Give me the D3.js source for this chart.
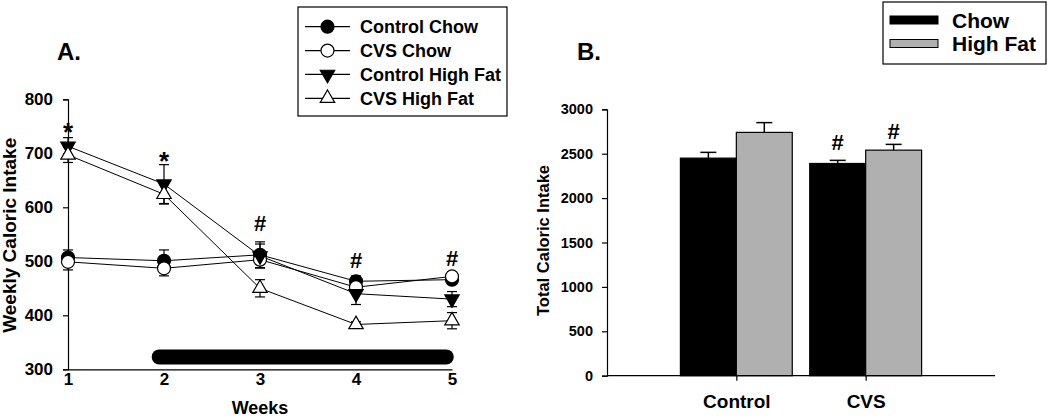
<!DOCTYPE html>
<html><head><meta charset="utf-8">
<script src="https://cdn.jsdelivr.net/npm/d3@7"></script>
<style>
html,body{margin:0;padding:0;background:#fff;}
svg{display:block;font-family:"Liberation Sans",Arial,sans-serif;font-weight:bold;}
</style></head>
<body><svg id="c" width="1050" height="417"></svg>
<script>
// ---------- Panel A data ----------
const weeks = [1, 2, 3, 4, 5];
const controlChow = [507, 501, 512, 463, 466];
const controlChowErr = [14, 20, 24, 10, 8];
const cvsChow = [499, 487, 503, 452, 472];
const cvsChowErr = [15, 14, 15, 10, 8];
const controlHF = [713, 643, 510, 440, 430];
const controlHFErr = [16, 36, 22, 20, 14];
const cvsHF = [697, 624, 450, 383, 390];
const cvsHFErr = [14, 18, 16, 5, 15];
const seriesNamesA = ["Control Chow", "CVS Chow", "Control High Fat", "CVS High Fat"];
const yTicksA = [300, 400, 500, 600, 700, 800];
const annotA = ["*", "*", "#", "#", "#"];
const annotAValue = [722, 670, 557, 488, 491];
const stressWeeks = [1.95, 4.94];
const stressLevel = 323;

// ---------- Panel B data ----------
const groupsB = ["Control", "CVS"];
const dietsB = ["Chow", "High Fat"];
const chowTotal = [2450, 2390];
const chowTotalErr = [65, 35];
const hfTotal = [2740, 2540];
const hfTotalErr = [110, 65];
const yTicksB = [0, 500, 1000, 1500, 2000, 2500, 3000];
const annotB = [null, "#"];
const annotBHF = [null, "#"];
const annotBValue = [2541, 2671];

const svg = d3.select("#c");

// ================= Panel A =================
const xA = d3.scaleLinear().domain([1, 5]).range([68, 452]);
const yA = d3.scaleLinear().domain([300, 800]).range([369.3, 99.3]);

const gA = svg.append("g");
const yAxisA = gA.append("g").attr("transform", `translate(${xA(1)},0)`)
  .call(d3.axisLeft(yA).tickValues(yTicksA).tickSize(5).tickPadding(10).tickFormat(d3.format("d")));
const xAxisA = gA.append("g").attr("transform", `translate(0,${yA(300)})`)
  .call(d3.axisBottom(xA).tickValues(weeks).tickSize(0).tickPadding(4).tickFormat(d3.format("d")));
[yAxisA, xAxisA].forEach(a => {
  a.selectAll("path").attr("stroke", "#000").attr("stroke-width", 1.2);
  a.selectAll("line").attr("stroke", "#000").attr("stroke-width", 1.2);
  a.selectAll("text").attr("fill", "#000").style("font-family", "'Liberation Sans',Arial,sans-serif").style("font-weight", "bold");
});
yAxisA.selectAll("text").style("font-size", "17px");
xAxisA.selectAll("text").style("font-size", "17px");

gA.append("text").attr("x", xA(3)).attr("y", 414).attr("text-anchor", "middle")
  .style("font-size", "18px").text("Weeks");
gA.append("text").attr("transform", `translate(16,${yA(550) + 1}) rotate(-90)`).attr("text-anchor", "middle")
  .style("font-size", "19px").text("Weekly Caloric Intake");
gA.append("text").attr("x", 57).attr("y", 60).style("font-size", "24px").text("A.");

// stress bar
gA.append("line").attr("x1", xA(stressWeeks[0])).attr("x2", xA(stressWeeks[1]))
  .attr("y1", yA(stressLevel)).attr("y2", yA(stressLevel))
  .attr("stroke", "#000").attr("stroke-width", 15).attr("stroke-linecap", "round");

const seriesA = [
  {name: seriesNamesA[0], vals: controlChow, err: controlChowErr, sym: "circle", fill: "#000"},
  {name: seriesNamesA[1], vals: cvsChow, err: cvsChowErr, sym: "circle", fill: "#fff"},
  {name: seriesNamesA[2], vals: controlHF, err: controlHFErr, sym: "down", fill: "#000"},
  {name: seriesNamesA[3], vals: cvsHF, err: cvsHFErr, sym: "up", fill: "#fff"}
];

function drawMarker(g, s, x, y) {
  if (s.sym === "circle") {
    g.append("circle").attr("cx", x).attr("cy", y).attr("r", 6.5)
      .attr("fill", s.fill).attr("stroke", "#000").attr("stroke-width", 1.2);
  } else {
    const p = d3.symbol().type(d3.symbolTriangle).size(90)();
    g.append("path").attr("d", p)
      .attr("transform", `translate(${x},${y})` + (s.sym === "down" ? " rotate(180)" : ""))
      .attr("fill", s.fill).attr("stroke", "#000").attr("stroke-width", 1.2);
  }
}

const line = d3.line().x((d, i) => xA(weeks[i])).y(d => yA(d));
seriesA.forEach(s => {
  s.vals.forEach((v, i) => {
    const x = xA(weeks[i]);
    gA.append("line").attr("x1", x).attr("x2", x).attr("y1", yA(v - s.err[i])).attr("y2", yA(v + s.err[i]))
      .attr("stroke", "#000").attr("stroke-width", 1.2);
    [v - s.err[i], v + s.err[i]].forEach(e => {
      gA.append("line").attr("x1", x - 5).attr("x2", x + 5).attr("y1", yA(e)).attr("y2", yA(e))
        .attr("stroke", "#000").attr("stroke-width", 1.2);
    });
  });
});
seriesA.forEach(s => {
  gA.append("path").attr("d", line(s.vals)).attr("fill", "none").attr("stroke", "#000").attr("stroke-width", 1);
});
seriesA.forEach(s => {
  s.vals.forEach((v, i) => drawMarker(gA, s, xA(weeks[i]), yA(v)));
});
annotA.forEach((t, i) => {
  gA.append("text").attr("x", xA(weeks[i])).attr("y", yA(annotAValue[i])).attr("text-anchor", "middle")
    .style("font-size", t === "*" ? "26px" : "22px").text(t);
});

// legend A
const legA = svg.append("g");
const legRowY = d3.scaleLinear().domain([0, 3]).range([26.7, 98.3]);
const legBox = legA.append("rect").attr("x", 298).attr("y", 7).attr("height", 109)
  .attr("fill", "#fff").attr("stroke", "#000").attr("stroke-width", 1.2);
let maxW = 0;
seriesA.forEach((s, i) => {
  const y = legRowY(i);
  legA.append("line").attr("x1", 305).attr("x2", 350).attr("y1", y).attr("y2", y).attr("stroke", "#000").attr("stroke-width", 1.2);
  drawMarker(legA, s, 327.5, y);
  const t = legA.append("text").attr("x", 360).attr("y", y + 6.5).style("font-size", "18px").text(s.name);
  maxW = Math.max(maxW, t.node().getComputedTextLength());
});
legBox.attr("width", 360 + maxW + 6 - 298);

// ================= Panel B =================
const yB = d3.scaleLinear().domain([0, 3000]).range([375.7, 109.3]);
const xB = d3.scaleBand().domain(groupsB).range([607, 995]).paddingInner(0.135).paddingOuter(0.5675);
const xDiet = d3.scaleBand().domain(dietsB).range([0, xB.bandwidth()]).padding(0);
const gB = svg.append("g");

const valsB = {"Chow": chowTotal, "High Fat": hfTotal};
const errsB = {"Chow": chowTotalErr, "High Fat": hfTotalErr};
const colB = {"Chow": "#000", "High Fat": "#b0b0b0"};

groupsB.forEach((g, gi) => {
  dietsB.forEach(d => {
    const x0 = xB(g) + xDiet(d);
    const v = valsB[d][gi], e = errsB[d][gi];
    const cx = x0 + xDiet.bandwidth() / 2;
    gB.append("line").attr("x1", cx).attr("x2", cx).attr("y1", yB(v)).attr("y2", yB(v + e)).attr("stroke", "#000").attr("stroke-width", 1.5);
    gB.append("line").attr("x1", cx - 8).attr("x2", cx + 8).attr("y1", yB(v + e)).attr("y2", yB(v + e)).attr("stroke", "#000").attr("stroke-width", 1.5);
    gB.append("rect").attr("x", x0).attr("y", yB(v)).attr("width", xDiet.bandwidth()).attr("height", yB(0) - yB(v))
      .attr("fill", colB[d]).attr("stroke", "#000").attr("stroke-width", 1.2);
  });
});

const yAxisB = gB.append("g").attr("transform", `translate(607,0)`)
  .call(d3.axisLeft(yB).tickValues(yTicksB).tickSize(5).tickPadding(9).tickFormat(d3.format("d")));
const xAxisB = gB.append("g").attr("transform", `translate(0,${yB(0)})`)
  .call(d3.axisBottom(d3.scalePoint().domain(groupsB).range([xB("Control") + xB.bandwidth() / 2, xB("CVS") + xB.bandwidth() / 2]))
    .tickSize(5).tickPadding(14));
xAxisB.select("path").attr("d", `M607,0H995`);
[yAxisB, xAxisB].forEach(a => {
  a.selectAll("path").attr("stroke", "#000").attr("stroke-width", 1.2);
  a.selectAll("line").attr("stroke", "#000").attr("stroke-width", 1.2);
  a.selectAll("text").attr("fill", "#000").style("font-family", "'Liberation Sans',Arial,sans-serif").style("font-weight", "bold");
});
yAxisB.selectAll("text").style("font-size", "14.5px");
xAxisB.selectAll("text").style("font-size", "19px");

gB.append("text").attr("transform", `translate(549,${yB(1500) - 2}) rotate(-90)`).attr("text-anchor", "middle")
  .style("font-size", "16.5px").text("Total Caloric Intake");
gB.append("text").attr("x", 577).attr("y", 60).style("font-size", "24px").text("B.");

groupsB.forEach((g, gi) => {
  if (annotB[gi]) gB.append("text").attr("x", xB(g) + xDiet("Chow") + xDiet.bandwidth() / 2).attr("y", yB(annotBValue[0]))
    .attr("text-anchor", "middle").style("font-size", "22px").text(annotB[gi]);
  if (annotBHF[gi]) gB.append("text").attr("x", xB(g) + xDiet("High Fat") + xDiet.bandwidth() / 2).attr("y", yB(annotBValue[1]))
    .attr("text-anchor", "middle").style("font-size", "22px").text(annotBHF[gi]);
});

// legend B
const legB = svg.append("g");
legB.append("rect").attr("x", 883).attr("y", 2).attr("width", 163).attr("height", 62)
  .attr("fill", "#fff").attr("stroke", "#000").attr("stroke-width", 1.2);
dietsB.forEach((d, i) => {
  const y = i === 0 ? 20 : 43.5;
  legB.append("rect").attr("x", 890).attr("y", y - 4).attr("width", 48).attr("height", 8)
    .attr("fill", colB[d]).attr("stroke", "#000").attr("stroke-width", 1);
  legB.append("text").attr("x", 952).attr("y", y + 7.5).style("font-size", "21px").text(d);
});
</script></body></html>
